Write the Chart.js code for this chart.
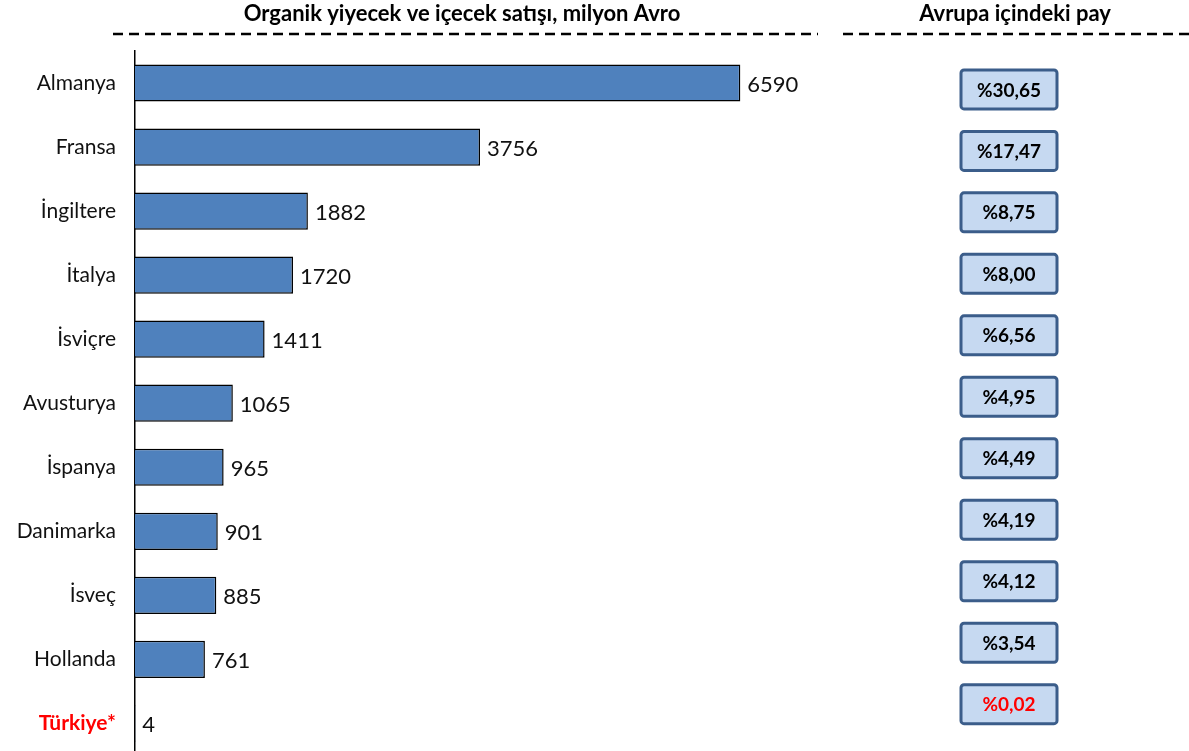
<!DOCTYPE html>
<html>
<head>
<meta charset="utf-8">
<script src="https://cdn.jsdelivr.net/npm/chart.js@4.4.0/dist/chart.umd.min.js"></script>
<style>
    html, body { margin: 0; padding: 0; background: #fff; overflow: hidden; }
    canvas { display: block; }
</style>
</head>
<body>
<canvas id="grafico" width="1189" height="787"></canvas>
<script>
// ulkeler ve satislar (milyon Avro)
const ulkeler = ["Almanya", "Fransa", "İngiltere", "İtalya", "İsviçre", "Avusturya", "İspanya", "Danimarka", "İsveç", "Hollanda", "Türkiye*"];
const satislar = [6590, 3756, 1882, 1720, 1411, 1065, 965, 901, 885, 761, 4];
const paylar = ["%30,65", "%17,47", "%8,75", "%8,00", "%6,56", "%4,95", "%4,49", "%4,19", "%4,12", "%3,54", "%0,02"];

const baslik1 = "Organik yiyecek ve içecek satışı, milyon Avro";
const baslik2 = "Avrupa içindeki pay";
const yazi = "Lato, 'Open Sans', sans-serif";
const turkiyeIndex = 10;

// basliklar ve kesikli cizgiler
const basliklar = {
    id: 'basliklar',
    afterDraw(chart) {
        const c = chart.ctx;
        c.save();
        c.fillStyle = '#000';
        c.font = 'bold 22px ' + yazi;
        c.textAlign = 'center';
        c.textBaseline = 'middle';
        c.fillText(baslik1, 462, 14);
        c.fillText(baslik2, 1015, 14);
        c.strokeStyle = '#000';
        c.lineWidth = 2.5;
        c.setLineDash([10, 6]);
        c.beginPath();
        c.moveTo(113, 34); c.lineTo(818, 34);
        c.moveTo(843, 34); c.lineTo(1189, 34);
        c.stroke();
        c.restore();
    }
};

// bar sonundaki degerler
const degerler = {
    id: 'degerler',
    afterDatasetsDraw(chart) {
        const c = chart.ctx;
        const meta = chart.getDatasetMeta(0);
        c.save();
        c.fillStyle = '#111';
        c.font = '22px ' + yazi;
        c.textAlign = 'left';
        c.textBaseline = 'middle';
        meta.data.forEach((bar, i) => {
            c.fillText(String(satislar[i]), bar.x + 7, bar.y + 2);
        });
        c.restore();
    }
};

// sagdaki pay kutulari
const payKutulari = {
    id: 'payKutulari',
    afterDraw(chart) {
        const c = chart.ctx;
        const y = chart.scales.y;
        const adim = y.getPixelForValue(1) - y.getPixelForValue(0);
        c.save();
        c.font = 'bold 19px ' + yazi;
        c.textAlign = 'center';
        c.textBaseline = 'middle';
        paylar.forEach((p, i) => {
            const cy = y.top + (i * 0.96 + 0.6) * adim;
            const x0 = 961, w = 96, h = 39;
            c.beginPath();
            c.roundRect(x0, cy - h / 2, w, h, 3);
            c.fillStyle = '#c6d9f1';
            c.fill();
            c.lineWidth = 3;
            c.strokeStyle = '#3b5d8a';
            c.stroke();
            c.fillStyle = i === turkiyeIndex ? '#ff0000' : '#000';
            c.fillText(p, x0 + w / 2, cy + 1);
        });
        c.restore();
    }
};

var grafico = document.getElementById('grafico').getContext('2d');

var meugrafico = new Chart(grafico, {
    type: 'bar',
    data: {
        labels: ulkeler,
        datasets: [{
            data: satislar,
            backgroundColor: '#4f81bd',
            borderColor: '#000',
            borderWidth: 1.5,
            barPercentage: 0.83,
            categoryPercentage: 0.7
        }]
    },
    options: {
        indexAxis: 'y',
        responsive: false,
        animation: false,
        layout: {
            padding: { top: 51, right: 411, bottom: 3, left: 0 }
        },
        scales: {
            x: {
                display: false,
                min: 0,
                max: 7000
            },
            y: {
                afterFit: function (scale) { scale.width = 135; },
                grid: { display: false, drawTicks: false },
                border: { display: true, color: '#000', width: 1.5 },
                ticks: {
                    padding: 19,
                    color: ctx => ctx.index === turkiyeIndex ? '#ff0000' : '#111',
                    font: ctx => ctx.index === turkiyeIndex
                        ? { family: yazi, size: 21, weight: 'bold' }
                        : { family: yazi, size: 21 }
                }
            }
        },
        plugins: {
            legend: { display: false },
            tooltip: { enabled: false }
        }
    },
    plugins: [basliklar, degerler, payKutulari]
});
</script>
</body>
</html>
